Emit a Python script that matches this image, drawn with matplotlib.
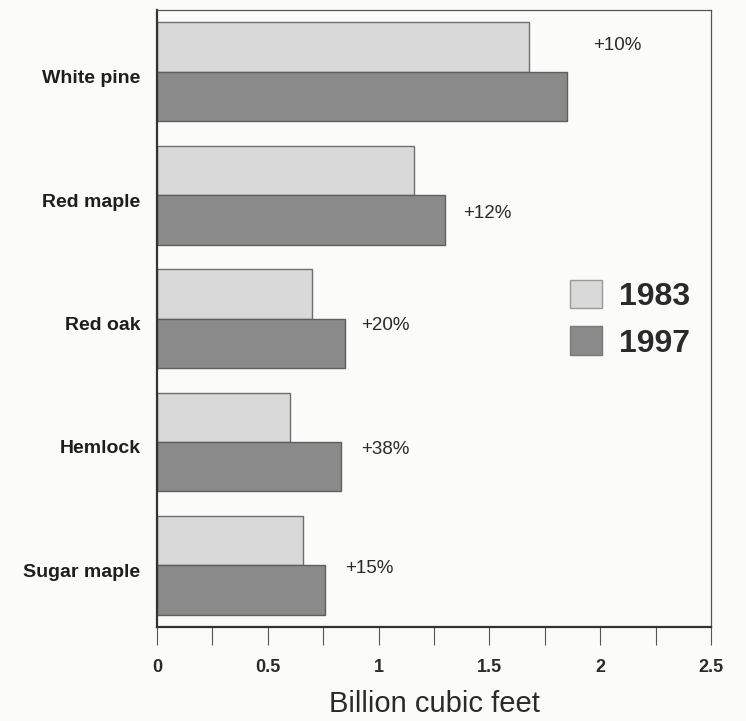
"""Timber volume by species, 1983 vs 1997."""

import matplotlib.pyplot as plt
import matplotlib.transforms as mtransforms
import numpy as np
from matplotlib.patches import Patch

species = ["White pine", "Red maple", "Red oak", "Hemlock", "Sugar maple"]
vol_1983 = [1.68, 1.16, 0.70, 0.60, 0.66]
vol_1997 = [1.85, 1.30, 0.85, 0.83, 0.76]
change_labels = ["+10%", "+12%", "+20%", "+38%", "+15%"]

# where each percentage label sits (x in data units, y offset from group centre)
label_x = [1.97, 1.38, 0.92, 0.92, 0.85]
label_dy = [-0.21, 0.15, 0.06, 0.06, 0.03]

light = "#d9d9d9"
dark = "#8a8a8a"
edge = "#6e6e6e"

plt.rcParams["font.family"] = ["Liberation Sans", "DejaVu Sans"]

fig = plt.figure(figsize=(7.46, 7.21), dpi=100, facecolor="#fbfbfa")
ax = fig.add_axes([0.2105, 0.1304, 0.7425, 0.8556])
ax.set_facecolor("#fbfbfa")

y = np.arange(len(species))
h = 0.4
ax.barh(y - h / 2, vol_1983, height=h, color=light, edgecolor=edge, linewidth=1.0)
ax.barh(y + h / 2, vol_1997, height=h, color=dark, edgecolor="#5e5e5e", linewidth=1.0)

for yi, lx, dy, txt in zip(y, label_x, label_dy, change_labels):
    ax.text(lx, yi + dy, txt, fontsize=13.5, color="#2a2a2a", va="center", ha="left")

ax.set_xlim(0, 2.5)
ax.set_ylim(len(species) - 0.5, -0.5)
ax.set_yticks(y)
ax.set_yticklabels(species, fontsize=14, fontweight="bold", color="#1e1e1e")
ax.tick_params(axis="y", length=0, pad=12)
shift = mtransforms.ScaledTranslation(0, -5 / 100, fig.dpi_scale_trans)
for lab in ax.get_yticklabels():
    lab.set_transform(lab.get_transform() + shift)

ax.set_xticks([0, 0.5, 1, 1.5, 2, 2.5])
ax.set_xticklabels(["0", "0.5", "1", "1.5", "2", "2.5"], fontsize=13, fontweight="bold", color="#2a2a2a")
ax.set_xticks(np.arange(0, 2.51, 0.25), minor=True)
ax.tick_params(axis="x", which="both", direction="out", length=13, width=0.8, color="#555555", pad=10)

for side in ["left", "bottom"]:
    ax.spines[side].set_linewidth(1.6)
    ax.spines[side].set_color("#333333")
for side in ["top", "right"]:
    ax.spines[side].set_linewidth(0.9)
    ax.spines[side].set_color("#555555")

ax.set_xlabel("Billion cubic feet", fontsize=21, color="#2a2a2a", labelpad=10)

handles = [
    Patch(facecolor=light, edgecolor="#9a9a9a", label="1983"),
    Patch(facecolor=dark, edgecolor="#7a7a7a", label="1997"),
]
leg = ax.legend(
    handles=handles,
    loc="center left",
    bbox_to_anchor=(0.745, 0.499),
    frameon=False,
    borderpad=0,
    borderaxespad=0,
    handlelength=1.0,
    handleheight=1.0,
    handletextpad=0.53,
    labelspacing=0.45,
    prop={"size": 23, "weight": "bold"},
)
for t in leg.get_texts():
    t.set_color("#2a2a2a")

fig.savefig("out.png", dpi=100, facecolor=fig.get_facecolor())
